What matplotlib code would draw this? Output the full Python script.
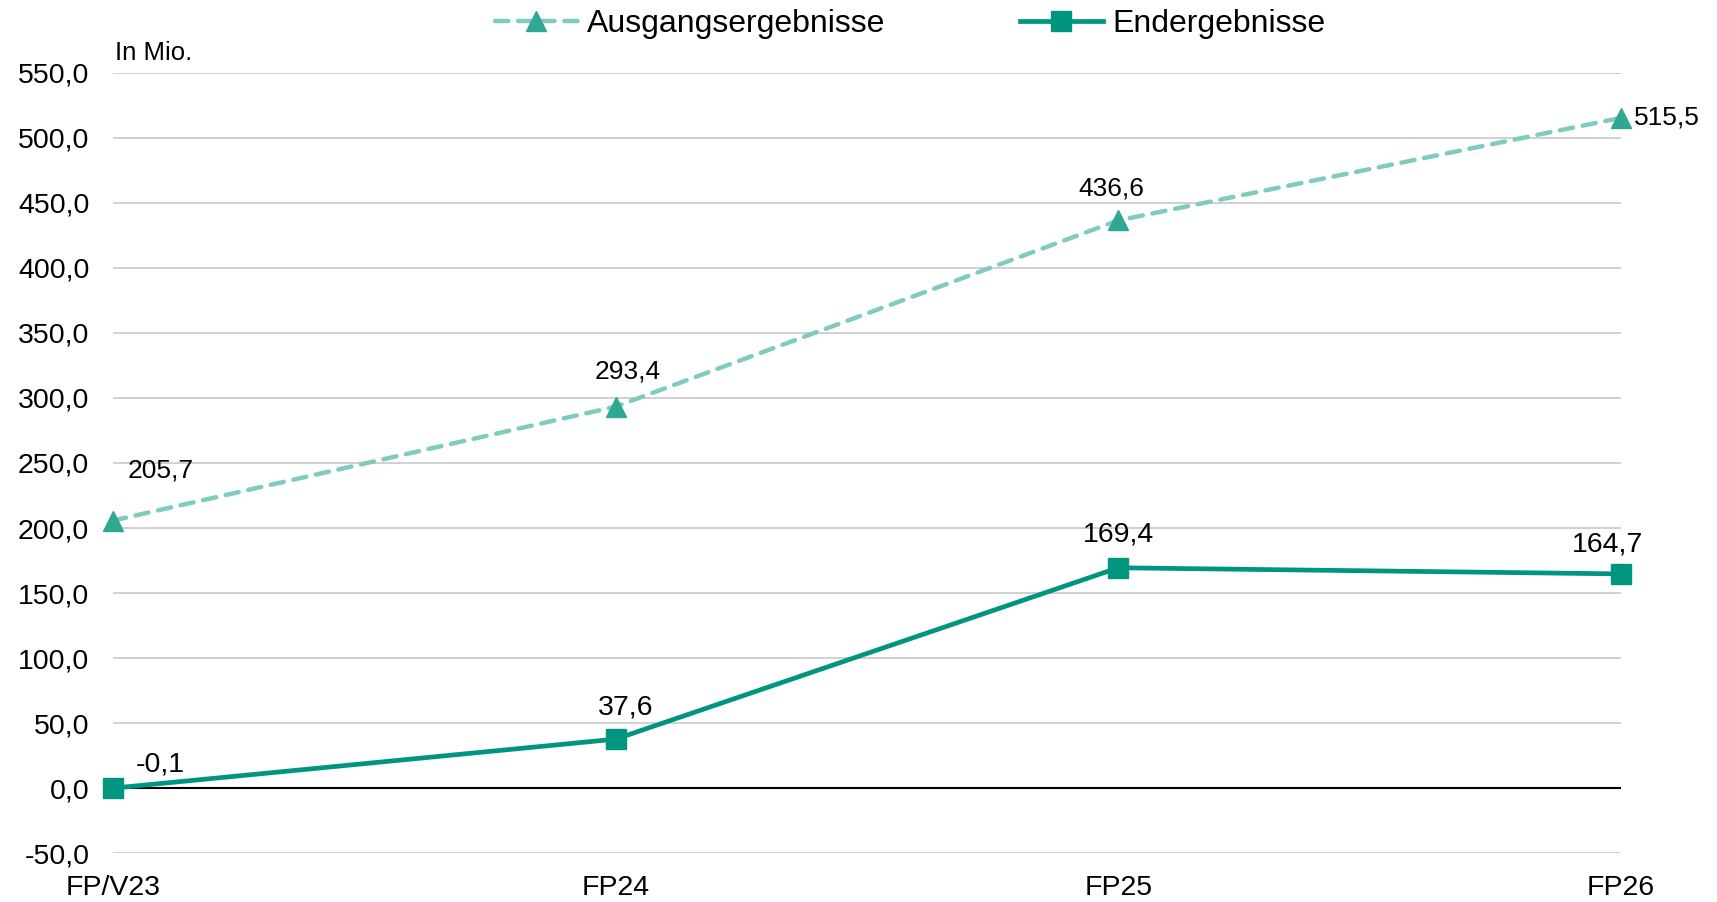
import matplotlib.pyplot as plt

plt.rcParams["font.family"] = ["Liberation Sans", "DejaVu Sans"]

categories = ["FP/V23", "FP24", "FP25", "FP26"]
ausgang = [205.7, 293.4, 436.6, 515.5]
ende = [-0.1, 37.6, 169.4, 164.7]
ausgang_labels = ["205,7", "293,4", "436,6", "515,5"]
ende_labels = ["-0,1", "37,6", "169,4", "164,7"]
y_ticks = [-50, 0, 50, 100, 150, 200, 250, 300, 350, 400, 450, 500, 550]

LIGHT = "#7fcbbf"
LIGHT_MARK = "#2fa893"
DARK = "#00957f"

fig = plt.figure(figsize=(17.17, 9.02), dpi=100, facecolor="white")
ax = fig.add_axes([0.0658, 0.0543, 0.8783, 0.8648])

x = list(range(len(categories)))

ax.plot(x, ausgang, color=LIGHT, linewidth=3.2, linestyle=(0, (3, 2.2)),
        dash_capstyle="round", marker="^", markersize=14,
        markerfacecolor=LIGHT_MARK, markeredgecolor=LIGHT_MARK,
        clip_on=False, zorder=4, label="Ausgangsergebnisse")
ax.plot(x, ende, color=DARK, linewidth=3.4, marker="s", markersize=14,
        markerfacecolor=DARK, markeredgecolor=DARK,
        clip_on=False, zorder=5, label="Endergebnisse")

# data labels (offsets in points)
a_off = [(34, 36), (9, 25), (-5, 23), (9, 0)]
for i, (v, t) in enumerate(zip(ausgang, ausgang_labels)):
    dx, dy = a_off[i]
    ha = "left" if i == 3 else "center"
    ax.annotate(t, (x[i], v), xytext=(dx, dy), textcoords="offset points",
                ha=ha, va="center", fontsize=19, color="black", zorder=6)

e_off = [(34, 17), (7, 23), (0, 24), (-10, 21)]
for i, (v, t) in enumerate(zip(ende, ende_labels)):
    dx, dy = e_off[i]
    ax.annotate(t, (x[i], v), xytext=(dx, dy), textcoords="offset points",
                ha="center", va="center", fontsize=20.5, color="black", zorder=6)

ax.set_xlim(0, 3)
ax.set_ylim(-50, 550)
ax.set_yticks(y_ticks)
ax.set_yticklabels([f"{t:.1f}".replace(".", ",") for t in y_ticks], fontsize=20.5)
ax.set_xticks(x)
ax.set_xticklabels(categories, fontsize=20.5)
ax.tick_params(axis="y", length=0, pad=17)
ax.tick_params(axis="x", length=0, pad=16)

ax.grid(axis="y", color="#c4c4c4", linewidth=1.1)
ax.set_axisbelow(True)
ax.axhline(0, color="black", linewidth=1.5, zorder=3)
for s in ax.spines.values():
    s.set_visible(False)

fig.text(0.067, 0.928, "In Mio.", fontsize=18.5, ha="left", va="bottom")

leg = fig.legend(loc="center", bbox_to_anchor=(0.53, 0.973), ncol=2, frameon=False,
                 fontsize=23, handlelength=2.6, columnspacing=4.2, handletextpad=0.3)

fig.savefig("out.png", dpi=100, facecolor="white")
